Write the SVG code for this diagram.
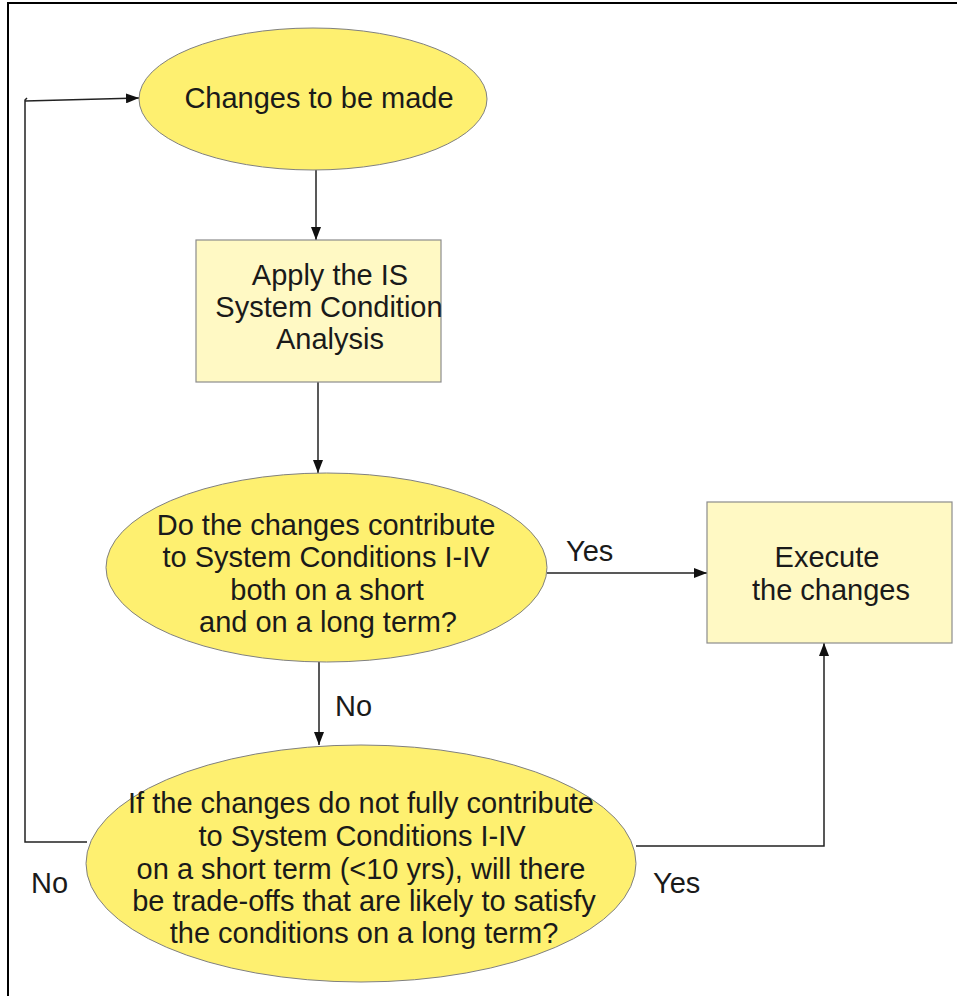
<svg xmlns="http://www.w3.org/2000/svg" width="957" height="996" viewBox="0 0 957 996">
  <defs>
    <marker id="arrow" viewBox="0 0 13 10" refX="13" refY="5" markerWidth="13" markerHeight="10" markerUnits="userSpaceOnUse" orient="auto">
      <path d="M0,0 L13,5 L0,10 Z" fill="#111"/>
    </marker>
    <style>
      .oval { fill: #FEF070; stroke: #808080; stroke-width: 1; }
      .box { fill: #FFF9C4; stroke: #8c8c8c; stroke-width: 1.2; }
      .txt { font-family: "Liberation Sans", Arial, sans-serif; font-size: 29px; fill: #1a1a1a; text-anchor: middle; }
      .lbl { font-family: "Liberation Sans", Arial, sans-serif; font-size: 29px; fill: #1a1a1a; }
      .wire { fill: none; stroke: #222; stroke-width: 1.5; }
      .wire-end { fill: none; stroke: #222; stroke-width: 1.5; marker-end: url(#arrow); }
    </style>
  </defs>

  <rect width="957" height="996" fill="#fff"/>
  <!-- frame (top and left edges) -->
  <path d="M8,996 L8,3 L957,3" fill="none" stroke="#000" stroke-width="2"/>

  <g id="connectors">
    <path class="wire-end" d="M316,170 L316,240"/>
    <path class="wire-end" d="M318,382 L318,473"/>
    <path class="wire-end" d="M547,573 L707,573"/>
    <path class="wire-end" d="M319,662 L319,745"/>
    <path class="wire-end" d="M636,846 L824,846 L824,643"/>
    <path class="wire" d="M87,842 L25,842 L25,100 L27,98"/>
    <path class="wire-end" d="M25,101 L139,98"/>
  </g>

  <g id="changes">
    <ellipse class="oval" cx="313" cy="99" rx="174" ry="71"/>
    <text class="txt" x="319" y="108">Changes to be made</text>
  </g>

  <g id="apply-analysis">
    <rect class="box" x="196" y="240" width="245" height="142"/>
    <text class="txt" x="330" y="285">Apply the IS</text>
    <text class="txt" x="329" y="317">System Condition</text>
    <text class="txt" x="330" y="349">Analysis</text>
  </g>

  <g id="question-contribute">
    <ellipse class="oval" cx="326.5" cy="567.5" rx="220.5" ry="94.5"/>
    <text class="txt" x="326" y="535">Do the changes contribute</text>
    <text class="txt" x="326" y="567">to System Conditions I-IV</text>
    <text class="txt" x="327" y="600">both on a short</text>
    <text class="txt" x="328" y="632">and on a long term?</text>
  </g>

  <g id="execute">
    <rect class="box" x="707" y="502" width="245" height="141"/>
    <text class="txt" x="827" y="567">Execute</text>
    <text class="txt" x="831" y="600">the changes</text>
  </g>

  <g id="question-tradeoffs">
    <ellipse class="oval" cx="361" cy="863.5" rx="275" ry="118.5"/>
    <text class="txt" x="361" y="813">If the changes do not fully contribute</text>
    <text class="txt" x="362" y="846">to System Conditions I-IV</text>
    <text class="txt" x="361" y="879">on a short term (&lt;10 yrs), will there</text>
    <text class="txt" x="364" y="911">be trade-offs that are likely to satisfy</text>
    <text class="txt" x="364" y="943">the conditions on a long term?</text>
  </g>

  <g id="labels">
    <text class="lbl" x="566" y="561">Yes</text>
    <text class="lbl" x="335" y="716">No</text>
    <text class="lbl" x="31" y="893">No</text>
    <text class="lbl" x="653" y="893">Yes</text>
  </g>
</svg>
